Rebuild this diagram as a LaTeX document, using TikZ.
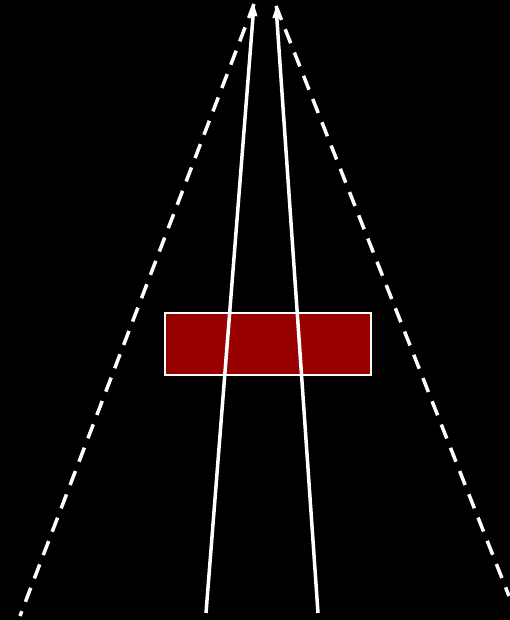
\documentclass[tikz,border=0pt]{standalone}
\usetikzlibrary{arrows.meta}
\definecolor{block}{HTML}{990000}

\begin{document}
\begin{tikzpicture}[x=1pt,y=-1pt,>={Triangle[length=12pt,width=8pt]},
ray/.style={draw=white,line width=3.5pt},
edge/.style={draw=white,line width=3.5pt,dash pattern=on 15pt off 10pt},
box/.style={draw=white,line width=2pt,fill=block,minimum width=206pt,
minimum height=62pt,inner sep=0pt}]
\fill[black] (0,0) rectangle (510,620);
\useasboundingbox (0,0) rectangle (510,620);
\node[box] (obj) at (268,344) {};
\coordinate (tipl) at (254,4);
\coordinate (tipr) at (276,6);
\coordinate (fl) at (206,613);
\coordinate (fr) at (318,613);
\coordinate (el) at (20,616);
\coordinate (er) at (509,596);
% viewing edges
\draw[edge] (tipl)--(el);
\draw[edge] (tipr)--(er);
% rays
\draw[ray,->] (fl)--(tipl);
\draw[ray,->] (fr)--(tipr);
\end{tikzpicture}
\end{document}
